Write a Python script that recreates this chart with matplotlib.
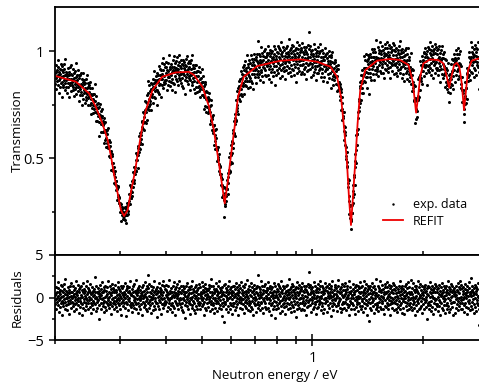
import numpy as np
import matplotlib
matplotlib.use('Agg')
import matplotlib.pyplot as plt
from matplotlib.ticker import FuncFormatter, NullFormatter

# REFIT curve: energy (eV) and transmission
fit_energy = [0.201, 0.228, 0.2475, 0.258, 0.269, 0.278, 0.284, 0.289, 0.296, 0.302,
              0.308, 0.315, 0.321, 0.329, 0.337, 0.344, 0.353, 0.368, 0.391, 0.425,
              0.462, 0.477, 0.503, 0.524, 0.540, 0.554, 0.566, 0.578, 0.590, 0.602,
              0.615, 0.628, 0.651, 0.708, 0.819, 0.928, 1.030, 1.119, 1.167, 1.196,
              1.221, 1.242, 1.257, 1.273, 1.289, 1.307, 1.327, 1.349, 1.392, 1.498,
              1.627, 1.732, 1.824, 1.870, 1.893, 1.913, 1.937, 1.962, 2.002, 2.088,
              2.199, 2.269, 2.318, 2.352, 2.386, 2.426, 2.467, 2.507, 2.545, 2.582,
              2.614, 2.647, 2.709, 2.835]
fit_trans = [0.883, 0.857, 0.802, 0.740, 0.662, 0.584, 0.506, 0.428, 0.335, 0.257,
             0.229, 0.257, 0.335, 0.428, 0.537, 0.631, 0.724, 0.818, 0.880, 0.900,
             0.903, 0.888, 0.833, 0.740, 0.631, 0.506, 0.397, 0.288, 0.397, 0.522,
             0.646, 0.786, 0.880, 0.930, 0.955, 0.961, 0.950, 0.927, 0.880, 0.786,
             0.631, 0.475, 0.319, 0.187, 0.319, 0.475, 0.662, 0.818, 0.911, 0.955,
             0.963, 0.958, 0.935, 0.864, 0.786, 0.712, 0.786, 0.880, 0.942, 0.961,
             0.958, 0.942, 0.880, 0.829, 0.880, 0.935, 0.945, 0.927, 0.849, 0.724,
             0.818, 0.911, 0.955, 0.966]

# residuals in tenths of a standard deviation, estimated from the lower panel
resid_x10 = [
    3, -8, 12, -2, 5, -14, 7, 0, -5, 18, -9, 2, 11, -3, -17, 6, 9, -1, -11, 4, 15, -6, 1, -21, 8, -4, 13, -10, 2, 7,
    -7, 10, -2, 16, -13, 4, -5, 22, -1, 8, -9, 3, -15, 6, 0, -4, 12, -8, 5, -19, 9, 1, -6, 14, -3, 7, -12, 2, 17, -5,
    6, -1, -10, 13, 2, -7, 9, -16, 4, -3, 11, -8, 1, 20, -6, 5, -13, 8, -2, 3, -9, 15, -4, 0, 10, -18, 7, -1, -11, 12,
    -4, 14, -6, 3, -20, 9, 1, -8, 6, -12, 17, -2, 5, -5, 10, -15, 2, 8, -7, 13, -1, -10, 4, 19, -3, 6, -14, 11, -6, 1,
    9, -3, 7, -11, 0, 16, -7, 4, -2, -18, 12, 5, -9, 2, 8, -4, -13, 10, 3, -6, 24, -1, -8, 6, 13, -16, 1, -5, 7, -2,
    -12, 5, 11, -3, 8, -9, 2, -25, 15, -1, 4, -6, 10, -14, 3, 7, -2, 18, -10, 0, 6, -7, 12, -4, -17, 9, 1, -11, 14, -5,
    2, -15, 8, 4, -6, 12, -1, -9, 20, -3, 7, -12, 1, 5, -8, 14, -5, 3, -19, 10, 6, -2, -10, 16, -7, 0, 11, -4, 9, -13,
    7, 1, -8, 15, -4, -11, 6, 9, -2, 3, -16, 12, -6, 0, 18, -9, 4, -3, 10, -14, 2, 8, -7, 13, -1, -20, 5, 11, -5, 3,
    -10, 13, -3, 6, 1, -7, 17, -12, 4, -1, 9, -5, -22, 11, 2, -8, 14, -2, 6, -15, 8, 0, -4, 12, -9, 5, 19, -6, 3, -11,
    4, -6, 10, -17, 7, 2, -9, 13, -3, 16, -12, 1, 8, -5, -1, 21, -8, 5, -13, 9, -2, 3, -18, 11, 6, -7, 0, 14, -10, 2,
    -3, 9, -14, 5, 0, -8, 12, 3, -20, 7, -5, 15, -1, -11, 8, 2, -6, 18, -9, 4, -13, 10, 1, -4, 6, -16, 13, -2, 27, -7,
    11, -5, 2, -12, 16, -3, 7, -9, 1, 14, -18, 5, -2, 9, -7, 3, 12, -15, 0, 6, -10, 19, -4, 8, -1, -13, 4, 10, -6, -23,
    5, 12, -7, 1, -10, 8, -3, 17, -14, 2, 6, -5, 11, -19, 4, -1, 9, -8, 15, -2, 3, -12, 7, 20, -6, 0, -9, 13, -4, 10,
    -8, 3, 15, -5, 9, -16, 1, 6, -2, -11, 13, 4, -7, 21, -3, 8, -13, 0, 5, -9, 11, -1, -17, 7, 2, -6, 14, -10, 3, 18,
    1, -12, 6, 10, -4, 3, -21, 12, -7, 5, -1, 16, -9, 2, 8, -14, 4, -3, 11, -6, 19, -8, 0, 7, -11, 13, -2, 5, -15, 9,
    -6, 8, -1, 13, -17, 4, 11, -3, 7, -9, 2, -24, 14, -5, 6, 1, -10, 17, -2, 9, -13, 3, 5, -7, 12, -4, -19, 10, 0, -8,
    14, -2, 5, -9, 1, 20, -12, 7, -4, 10, -15, 3, 8, -6, -1, 12, -18, 6, 2, -10, 15, -3, 9, -13, 4, -7, 11, 0, -5, 16,
    -9, 4, 12, -6, -14, 7, 2, -1, 18, -10, 5, -3, 13, -8, 0, 9, -20, 6, -5, 11, 3, -12, 16, -2, 8, -15, 1, 10, -7, 4,
    2, -11, 9, 15, -5, -2, 11, -16, 6, 1, -8, 13, -4, 22, -13, 3, 7, -9, -1, 14, -6, 5, -18, 10, 0, 8, -3, -12, 17, -7,
    10, -4, -16, 3, 8, -7, 14, -1, 5, -12, 1, 19, -9, 6, -3, 11, -14, 2, 9, -6, -22, 12, 4, -10, 7, -2, 15, -5, 3, -29,
    -5, 16, -8, 2, 11, -13, 6, 0, -3, 9, -17, 13, 4, -10, 7, -1, 20, -6, 1, -14, 10, 5, -9, 12, -2, -19, 8, 3, -7, 14,
    7, -10, 1, 13, -6, 4, -15, 10, 2, -4, 17, -11, 5, -1, -8, 12, 3, -20, 9, -5, 15, -2, 6, -12, 1, 11, -7, 18, -3, 0,
    -13, 5, 9, -2, 14, -8, 3, -18, 7, 12, -5, 1, -10, 16, -3, 8, -12, 4, 21, -7, 2, -15, 10, -1, 6, -9, 13, -4, -16, 9,
    3, -7, 17, -11, 2, 6, -4, 12, -14, 0, 8, -21, 10, -6, 4, 15, -9, 1, -3, 11, -17, 7, -2, 13, -8, 5, 26, -12, 3, -5,
    12, -1, -9, 6, -15, 10, 3, -5, 19, -7, 1, 13, -12, 4, -2, 9, -18, 5, 14, -4, 0, -11, 8, -6, 16, 2, -13, 7, -1, 11,
    -2, 9, -12, 18, 4, -6, 0, 11, -16, 7, -3, 14, -9, 2, -20, 10, 5, -7, 12, -1, 6, -14, 3, 17, -10, 8, -4, 1, -24, 13,
    6, -14, 3, -5, 10, 1, -9, 16, -2, -12, 8, 4, -7, 13, -18, 2, 11, -4, 7, -10, 19, -3, 5, -16, 9, 0, -8, 14, 2, -11,
    -7, 11, 5, -3, -19, 13, -1, 8, -10, 3, 15, -6, 0, 9, -13, 6, -2, 22, -8, 4, -12, 10, 1, -5, 12, -17, 7, -9, 16, 3,
    9, 0, -11, 14, -4, 6, -16, 2, 10, -8, 4, -23, 12, -1, 7, -14, 18, -5, 3, -9, 11, -2, 15, -12, 5, 8, -6, -1, 10, -15,
    -1, 12, -6, 3, 17, -13, 8, -4, 0, 13, -9, 6, -15, 10, 2, -7, 14, -3, -20, 9, 1, -11, 7, 16, -5, 4, -10, 12, -3, 30,
    4, -9, 15, -2, 7, -17, 10, 1, -6, 12, -3, -14, 8, 5, -11, 18, -1, 3, -8, 13, -5, 0, 9, -19, 6, 11, -4, 2, -12, 16,
    -11, 6, -3, 10, 1, -8, 20, -5, 13, -15, 2, 7, -1, -10, 14, -6, 4, 11, -18, 8, -2, 5, -13, 17, 0, -7, 9, -4, 12, -1,
    8, -4, 13, -17, 5, 2, -9, 11, -1, 16, -12, 3, 6, -7, 10, -22, 1, 14, -3, 7, -10, 19, -6, 2, -15, 9, 4, -2, -8, 12,
    -3, 15, -10, 4, -1, 11, -16, 8, 2, -6, 13, -9, 21, -4, 0, 7, -12, 5, 10, -2, -17, 6, 12, -8, 3, -14, 16, -5, 1, 9,
    13, -7, 2, -12, 9, 4, -5, 17, -15, 6, -2, 10, -8, 1, 14, -11, 3, -1, 19, -9, 7, -20, 5, 12, -4, 0, -13, 8, -6, 3,
    -6, 3, 10, -9, 16, -1, -14, 7, 4, -19, 12, -3, 8, -11, 1, 15, -5, 9, -2, -8, 13, 2, -16, 6, 11, -7, 0, 18, -10, 5,
    1, -13, 7, 12, -4, -10, 14, -2, 6, 3, -17, 9, -6, 20, -1, 5, -12, 11, -8, 2, 16, -3, -9, 8, -21, 10, 4, -5, 13, -28,
    11, -2, -7, 5, 13, -12, 1, 9, -15, 4, 17, -5, 0, -10, 7, 12, -3, -18, 6, 14, -8, 3, -1, 10, -13, 5, 22, -6, 2, -11,
    -9, 14, 3, -16, 8, 0, -5, 11, -2, 19, -11, 6, -13, 2, 9, -4, 15, -7, 1, -14, 10, -1, 7, -19, 4, 12, -10, 16, -3, 6,
    5, -11, 12, -1, -6, 18, -9, 2, 8, -13, 4, -3, 15, -8, 11, 1, -20, 7, -4, 13, -6, 9, 0, -12, 17, -2, 5, -15, 10, -5,
    15, -6, 1, 9, -14, 5, -3, 12, -8, 2, -17, 10, 7, -1, -11, 14, -4, 6, 20, -9, 3, -13, 11, 0, -7, 8, -18, 4, 13, -2,
    -4, 10, -12, 6, 2, -19, 13, -5, 8, -1, 16, -10, 3, -7, 11, -15, 5, 1, -3, 18, -9, 7, -14, 12, -2, 4, -6, 21, -11, 0,
    7, -15, 4, 11, -8, 1, 17, -3, -12, 9, -5, 14, -1, 6, -20, 10, 2, -9, 13, -4, 8, -16, 5, -2, 19, -7, 0, 12, -13, 3,
    -12, 2, 16, -4, 9, -10, 5, -1, 13, -18, 7, 3, -8, 12, -2, -14, 10, 6, -5, 15, -11, 1, 8, -3, -25, 11, 4, -9, 14, -6,
    3, 12, -5, -13, 7, 1, -9, 18, -4, 10, -16, 5, 2, -11, 14, -1, 6, -19, 9, -6, 11, 0, -14, 16, -3, 7, -8, 13, -2, -10,
    10, -8, 6, 1, -16, 11, -3, 4, -10, 15, -5, 8, -21, 2, 12, -7, 3, 17, -12, 5, -1, 9, -15, 6, 13, -4, -9, 2, 11, -18,
    -2, 13, -9, 7, 3, -14, 9, -6, 19, -1, -10, 5, 12, -17, 4, 8, -3, 10, -13, 1, 16, -7, 6, -11, 2, 14, -5, -20, 9, 4,
    8, -5, 11, -18, 2, 6, -12, 14, -2, 3, 9, -8, -1, 17, -15, 7, -4, 12, 0, -10, 5, 20, -6, 10, -13, 1, 15, -3, -7, 11,
    -14, 4, 8, -2, 12, -9, 1, -17, 10, 5, -6, 16, -11, 3, -1, 13, -19, 6, 9, -4, 2, -12, 18, -7, 11, -3, 4, -15, 7, 23,
    6, -10, 2, 14, -5, 9, -13, 3, 7, -2, -18, 11, -8, 5, 15, -1, -11, 8, 4, -16, 12, -3, 10, -6, 1, 17, -9, 2, -14, -32,
]

e_min, e_max = 0.2, 2.835   # energy range of the measurement shown
noise = 0.046               # transmission uncertainty at T = 1

residuals = np.array(resid_x10) / 10
energy = np.geomspace(e_min, e_max, len(residuals))
fit_at_e = np.interp(np.log(energy), np.log(fit_energy), fit_trans)
trans = fit_at_e + residuals * noise * np.sqrt(fit_at_e)

plt.rcParams['font.family'] = ['Open Sans', 'DejaVu Sans']
plt.rcParams['axes.linewidth'] = 1.3

W, H = 479, 385
fig = plt.figure(figsize=(W / 100, H / 100), dpi=100)
ax1 = fig.add_axes([55 / W, 1 - 255 / H, 424 / W, 248 / H])
ax2 = fig.add_axes([55 / W, 1 - 340 / H, 424 / W, 85 / H], sharex=ax1)

ax1.plot(energy, trans, 'o', color='black', ms=2.2, mew=0, label='exp. data')
ax1.plot(fit_energy, fit_trans, color='#ee0000', lw=1.3, label='REFIT')
ax2.plot(energy, residuals, 'o', color='black', ms=2.2, mew=0)

ax1.set_xscale('log')
ax1.set_xlim(e_min, e_max)
ax1.set_ylim(0.047, 1.206)
ax2.set_ylim(-5, 5)

ax1.set_yticks([0.5, 1], ['0.5', '1'])
ax1.set_yticks([0.25, 0.75], minor=True)
ax2.set_yticks([-5, 0, 5])
ax2.set_yticks([-2.5, 2.5], minor=True)
ax2.xaxis.set_major_formatter(FuncFormatter(lambda v, p: f'{v:g}'))
ax2.xaxis.set_minor_formatter(NullFormatter())

for ax in (ax1, ax2):
    ax.spines['right'].set_visible(False)
    ax.tick_params(axis='x', which='major', direction='inout', length=9, width=1.1, labelsize=10.5)
    ax.tick_params(axis='x', which='minor', direction='inout', length=6, width=1.1)
    ax.tick_params(axis='y', which='major', direction='out', length=4.5, width=1.1, labelsize=10.5)
    ax.tick_params(axis='y', which='minor', direction='out', length=2.5, width=1.1)
    ax.yaxis.set_label_coords(-0.073, 0.5)
ax1.tick_params(axis='x', which='both', labelbottom=False)

ax1.set_ylabel('Transmission', fontsize=9.5)
ax2.set_ylabel('Residuals', fontsize=9.5)
ax2.set_xlabel('Neutron energy / eV', fontsize=9.5)
ax2.xaxis.set_label_coords(0.519, -0.34)

ax1.legend(loc='upper left', bbox_to_anchor=(0.774, 0.228), frameon=False, fontsize=9,
           borderpad=0, borderaxespad=0, handlelength=1.6, handletextpad=0.8,
           labelspacing=0.25, markerscale=0.8)

fig.savefig('out.png', dpi=100)
